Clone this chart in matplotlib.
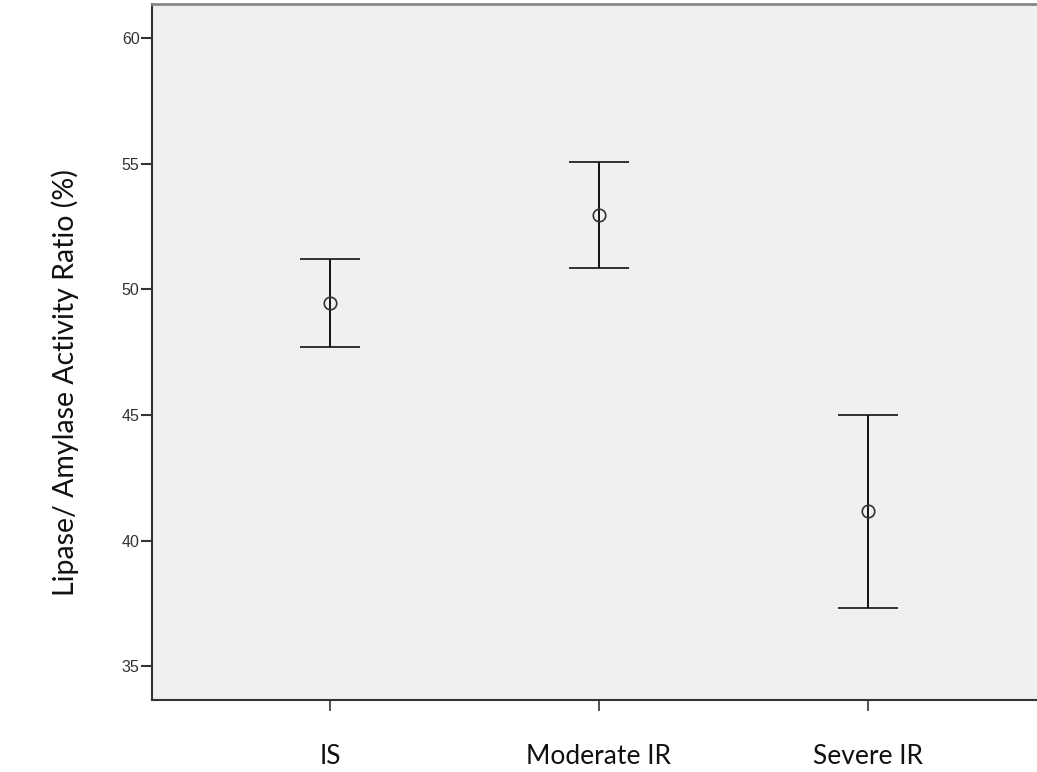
import matplotlib
matplotlib.use('Agg')
import matplotlib.pyplot as plt
import numpy as np

# group means and 95% CI half-widths
groups = ['IS', 'Moderate IR', 'Severe IR']
means = [49.47, 52.97, 41.17]
ci_half = [1.76, 2.12, 3.84]
yTicks = [35, 40, 45, 50, 55, 60]

fig = plt.figure(figsize=(10.37, 7.72), dpi=100)
ax = fig.add_axes([0.1466, 0.0933, 0.862, 0.9015])
ax.set_facecolor('#f0f0f0')

xPos = np.arange(len(groups))
ax.errorbar(xPos, means, yerr=ci_half, fmt='o', color='#222222',
            ecolor='#111111', elinewidth=1.4, capsize=21.5, capthick=1.6,
            markersize=9, markerfacecolor='none', markeredgecolor='#333333',
            markeredgewidth=1.2)

ax.set_xlim(-0.664, 2.664)
ax.set_ylim(33.65, 61.37)
ax.set_yticks(yTicks)
ax.set_yticklabels([str(t) for t in yTicks], family='Liberation Sans',
                   fontsize=11.5, color='#333333')
ax.set_xticks(xPos)
ax.set_xticklabels(groups, family='Lato', fontsize=19, color='#111111')
ax.tick_params(axis='y', length=8, width=1.5, color='#333333', pad=1)
ax.tick_params(axis='x', length=8, width=1.2, color='#333333', pad=24)

for side in ['left', 'bottom']:
    ax.spines[side].set_color('#333333')
    ax.spines[side].set_linewidth(1.5)
ax.spines['top'].set_color('#888888')
ax.spines['top'].set_linewidth(2)
ax.spines['right'].set_visible(False)

fig.text(0.063, 0.504, 'Lipase/ Amylase Activity Ratio (%)', rotation=90,
         ha='center', va='center', family='Lato', fontsize=20.5,
         color='#111111')

fig.savefig('out.png', dpi=100, facecolor='white')
